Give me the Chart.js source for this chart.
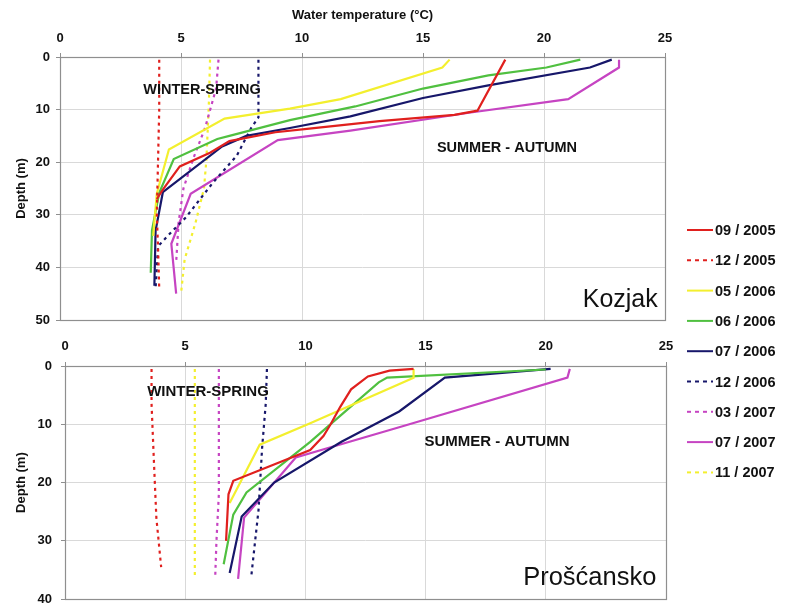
<!DOCTYPE html>
<html><head><meta charset="utf-8">
<script src="https://cdn.jsdelivr.net/npm/chart.js@4.4.1/dist/chart.umd.min.js"></script>
<style>
html,body{margin:0;padding:0;background:#fff;}
#wrap{position:relative;width:786px;height:616px;overflow:hidden;}
canvas{position:absolute;left:0;}
#c1{top:0;} #c2{top:330px;}
</style></head><body>
<div id="wrap"><canvas id="c1" width="786" height="616"></canvas><canvas id="c2" width="786" height="286"></canvas></div>
<script>
// ---- data: [temperature °C, depth m] pairs ----
const seriesLabels = ['09 / 2005','12 / 2005','05 / 2006','06 / 2006','07 / 2006','12 / 2006','03 / 2007','07 / 2007','11 / 2007'];
const seriesColors = ['#e0201e','#e0201e','#f3ef2e','#50c040','#17176a','#17176a','#c644c2','#c644c2','#f3ef2e'];
const seriesDashed = [false,true,false,false,false,true,true,false,true];
const tempTicks = [0,5,10,15,20,25];
const kozjakDepthTicks = [0,10,20,30,40,50];
const proscanskoDepthTicks = [0,10,20,30,40];

const kozjak_0905 = [[18.4,0.5],[17.25,10.2],[16.3,11],[13.2,12.2],[10.3,13.6],[8.9,14.3],[7.0,16],[6.2,18.2],[4.95,20.8],[4.25,25.2],[4.0,27]];
const kozjak_1205 = [[4.1,0.5],[4.1,10],[4.05,20],[4.0,30],[4.05,36],[4.1,44]];
const kozjak_0506 = [[16.1,0.5],[15.8,2],[11.6,8],[9.5,9.8],[6.8,11.7],[4.5,17.6],[4.0,26],[3.85,34]];
const kozjak_0606 = [[21.5,0.5],[20.1,2],[17.7,3.5],[15,6],[12.2,9.4],[9.5,12],[7,15],[6.5,15.6],[4.7,19.4],[4.1,25.8],[3.8,33],[3.75,41]];
const kozjak_0706 = [[22.8,0.5],[21.9,2],[17.7,5.4],[15,7.8],[12,11.3],[9.5,13.5],[7.7,15],[6.7,17],[4.25,25.7],[3.95,33],[3.9,43.5]];
const kozjak_1206 = [[8.2,0.5],[8.2,11.5],[7.9,13.5],[7.3,18.8],[6.3,24],[5.2,30.5],[4.45,34],[4.05,36],[3.95,44]];
const kozjak_0307 = [[6.55,0.5],[6.45,6],[6.0,13.4],[5.5,19.4],[5.1,25],[4.9,31.5],[4.8,39]];
const kozjak_0707 = [[23.1,0.5],[23.1,2],[21,8],[16.9,10.6],[12,14],[9,15.8],[5.4,26],[4.6,35.5],[4.8,45]];
const kozjak_1107 = [[6.2,0.5],[6.15,9],[6.05,19.5],[5.95,25],[5.6,31.5],[5.15,38.5],[5.0,45]];

const proscansko_0905 = [[14.5,0.5],[13.5,0.8],[12.6,1.8],[11.9,4],[11.45,7],[11.05,10],[10.75,12],[10.2,14.4],[7.0,19.7],[6.8,22],[6.7,30]];
const proscansko_1205 = [[3.6,0.5],[3.6,6.5],[3.7,16.5],[3.8,26],[4.0,34.5]];
const proscansko_0506 = [[14.5,0.5],[14.5,2],[10.2,9.8],[8.1,13.5],[6.85,23.5]];
const proscansko_0606 = [[20.0,0.6],[13.4,2],[13.05,2.8],[11.6,8],[10.2,13],[7.55,21.7],[7.0,25.5],[6.6,34]];
const proscansko_0706 = [[20.2,0.5],[15.8,2],[13.9,7.8],[11.5,13],[8.7,20],[7.35,25.8],[6.85,35.5]];
const proscansko_1206 = [[8.4,0.5],[8.35,6.5],[8.2,14],[8.05,24.7],[7.75,36]];
const proscansko_0307 = [[6.4,0.5],[6.4,10],[6.4,22],[6.3,30],[6.25,36]];
const proscansko_0707 = [[21.0,0.5],[20.9,2],[13.9,10.5],[9.6,15.7],[7.45,26],[7.2,36.5]];
const proscansko_1107 = [[5.4,0.5],[5.4,10],[5.4,20],[5.4,30],[5.4,36]];

const kozjakSeries = [kozjak_0905,kozjak_1205,kozjak_0506,kozjak_0606,kozjak_0706,kozjak_1206,kozjak_0307,kozjak_0707,kozjak_1107];
const proscanskoSeries = [proscansko_0905,proscansko_1205,proscansko_0506,proscansko_0606,proscansko_0706,proscansko_1206,proscansko_0307,proscansko_0707,proscansko_1107];

const xTitle = 'Water temperature (°C)';
const yTitle = 'Depth (m)';
const FONT = '"Liberation Sans", Arial, sans-serif';
const DASH = [3,4];

function makeDatasets(series){
  return series.map((pts,i)=>({
    label: seriesLabels[i],
    data: pts.map(p=>({x:p[0], y:p[1]})),
    showLine:true, borderColor: seriesColors[i], backgroundColor: seriesColors[i],
    borderWidth: 2.2, borderDash: seriesDashed[i] ? DASH : [], pointRadius:0, tension:0, fill:false
  }));
}

function annotPlugin(items){
  return {id:'annot', afterDatasetsDraw(chart){
    const {ctx, scales:{x,y}} = chart;
    items.forEach(it=>{
      ctx.save(); ctx.font = it.font; ctx.fillStyle = '#111'; ctx.textAlign = it.align; ctx.textBaseline = 'middle';
      ctx.fillText(it.text, x.getPixelForValue(it.x), y.getPixelForValue(it.y)); ctx.restore();
    });
  }};
}
const frame = {id:'frame', beforeDatasetsDraw(chart){
  const {ctx, chartArea:a} = chart;
  ctx.save(); ctx.strokeStyle = '#8f8f8f'; ctx.lineWidth = 1.2;
  ctx.strokeRect(Math.round(a.left)+0.5, Math.round(a.top)+0.5, Math.round(a.right-a.left), Math.round(a.bottom-a.top));
  ctx.restore();
}};
const legendPlugin = {id:'leg', afterDraw(chart){
  const ctx = chart.ctx;
  chart.data.datasets.forEach((ds,i)=>{
    const yc = 230 + i*30.3;
    ctx.save();
    ctx.strokeStyle = ds.borderColor; ctx.lineWidth = 2; ctx.setLineDash(seriesDashed[i] ? [4,4] : []);
    ctx.beginPath(); ctx.moveTo(687, yc); ctx.lineTo(713, yc); ctx.stroke();
    ctx.setLineDash([]);
    ctx.fillStyle = '#111'; ctx.font = 'bold 14.5px ' + FONT; ctx.textAlign = 'left'; ctx.textBaseline = 'middle';
    ctx.fillText(ds.label, 715, yc+1);
    ctx.restore();
  });
}};

function scalesFor(depthTicks, yWidth, xHeight, showTitle, xPad, yPad){
  return {
    x: {type:'linear', position:'top', min:tempTicks[0], max:tempTicks[tempTicks.length-1],
        afterBuildTicks: s => { s.ticks = tempTicks.map(v=>({value:v})); },
        afterFit: s => { s.height = xHeight; },
        grid:{color:'#d9d9d9', tickColor:'#8f8f8f', tickLength:4, lineWidth:1},
        border:{display:false},
        ticks:{color:'#111', font:{family:FONT, size:13, weight:'bold'}, padding:xPad, maxRotation:0},
        title:{display:showTitle, text:xTitle, color:'#111', font:{family:FONT, size:13, weight:'bold'}, padding:{top:8,bottom:0}}},
    y: {type:'linear', reverse:true, min:depthTicks[0], max:depthTicks[depthTicks.length-1],
        afterBuildTicks: s => { s.ticks = depthTicks.map(v=>({value:v})); },
        afterFit: s => { s.width = yWidth; },
        grid:{color:'#d9d9d9', tickColor:'#8f8f8f', tickLength:4, lineWidth:1},
        border:{display:false},
        ticks:{color:'#111', font:{family:FONT, size:13, weight:'bold'}, padding:yPad},
        title:{display:true, text:yTitle, color:'#111', font:{family:FONT, size:13, weight:'bold'}, padding:{top:14,bottom:0}}}
  };
}

new Chart(document.getElementById('c1'), {
  type:'scatter',
  data:{datasets: makeDatasets(kozjakSeries)},
  options:{responsive:false, animation:false, devicePixelRatio:1,
    layout:{padding:{left:0, top:0, right:121, bottom:296}},
    plugins:{legend:{display:false}, tooltip:{enabled:false}},
    scales: scalesFor(kozjakDepthTicks, 60, 57, true, 7, 6)},
  plugins:[frame, legendPlugin, annotPlugin([
    {text:'WINTER-SPRING', x:5.87, y:6.3, align:'center', font:'bold 14.5px '+FONT},
    {text:'SUMMER - AUTUMN', x:18.47, y:17.3, align:'center', font:'bold 14.5px '+FONT},
    {text:'Kozjak', x:24.7, y:46.3, align:'right', font:'25px '+FONT}
  ])]
});

new Chart(document.getElementById('c2'), {
  type:'scatter',
  data:{datasets: makeDatasets(proscanskoSeries)},
  options:{responsive:false, animation:false, devicePixelRatio:1,
    layout:{padding:{left:0, top:0, right:120, bottom:6}},
    plugins:{legend:{display:false}, tooltip:{enabled:false}},
    scales: scalesFor(proscanskoDepthTicks, 65, 36, false, 8, 9)},
  plugins:[frame, annotPlugin([
    {text:'WINTER-SPRING', x:5.95, y:4.4, align:'center', font:'bold 15px '+FONT},
    {text:'SUMMER - AUTUMN', x:17.97, y:12.95, align:'center', font:'bold 15px '+FONT},
    {text:'Prošćansko', x:24.6, y:36.4, align:'right', font:'25.5px '+FONT}
  ])]
});
</script>
</body></html>
